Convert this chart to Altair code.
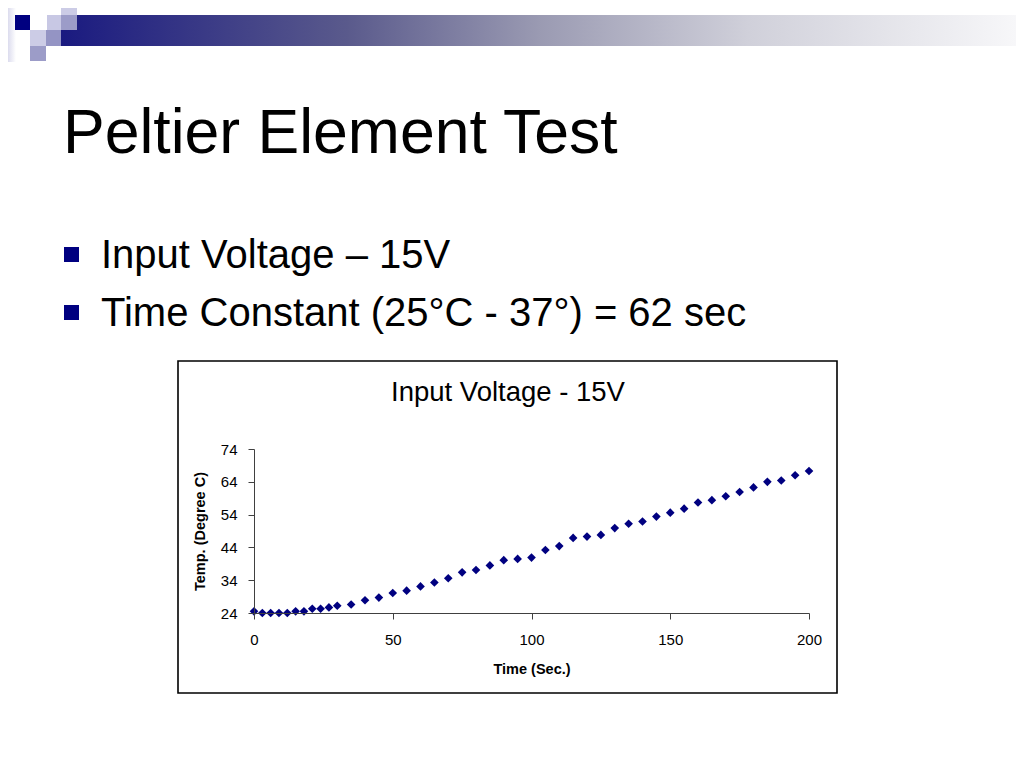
import altair as alt
import pandas as pd

# ---- data ----
time_sec = [0, 3, 6, 9, 12, 15, 18, 21, 24, 27, 30,
            35, 40, 45, 50, 55, 60, 65, 70, 75, 80, 85, 90, 95, 100,
            105, 110, 115, 120, 125, 130, 135, 140, 145, 150,
            155, 160, 165, 170, 175, 180, 185, 190, 195, 200]
temp_c = [24.5, 24.0, 24.0, 24.0, 24.0, 24.5, 24.5, 25.3, 25.3, 25.7, 26.2,
          26.6, 27.9, 28.7, 30.1, 30.8, 32.1, 33.3, 34.6, 36.4, 37.1, 38.5, 40.1, 40.5, 40.9,
          43.2, 44.4, 46.9, 47.3, 47.8, 49.9, 51.2, 51.9, 53.4, 54.6,
          55.8, 57.7, 58.4, 59.6, 60.9, 62.3, 64.0, 64.4, 66.0, 67.3]
x_ticks = [0, 50, 100, 150, 200]
y_ticks = [24, 34, 44, 54, 64, 74]

slide_title = "Peltier Element Test"
bullets = ["Input Voltage \u2013 15V", "Time Constant (25\u00b0C - 37\u00b0) = 62 sec"]
chart_title = "Input Voltage - 15V"

df = pd.DataFrame({"time": time_sec, "temp": temp_c})

FONT = "Liberation Sans"
NAVY = "#000080"
# plot origin on the page: (254, 449)
OX, OY = 254, 449
W, H = 555, 164


def px(v):
    return v - OX


def py(v):
    return v - OY


one = alt.Data(values=[{}])


def box(x1, y1, x2, y2, **mark):
    return alt.Chart(one).mark_rect(**mark).encode(
        x=alt.value(px(x1)), x2=alt.value(px(x2)),
        y=alt.value(py(y1)), y2=alt.value(py(y2)))


def label(txt, x, y, **mark):
    return alt.Chart(one).mark_text(text=txt, font=FONT, color="black", **mark).encode(
        x=alt.value(px(x)), y=alt.value(py(y)))


grad = alt.LinearGradient(
    gradient="linear", x1=0, x2=1, y1=0, y2=0,
    stops=[alt.GradientStop(color="#1a1a80", offset=0),
           alt.GradientStop(color="#5a5a8c", offset=0.3),
           alt.GradientStop(color="#9a9ab2", offset=0.5),
           alt.GradientStop(color="#d0d0da", offset=0.72),
           alt.GradientStop(color="#f7f7f9", offset=1)])

side_grad = alt.LinearGradient(
    gradient="linear", x1=0, x2=1, y1=0, y2=0,
    stops=[alt.GradientStop(color="#dcdcee", offset=0),
           alt.GradientStop(color="#ffffff", offset=1)])

layers = [
    box(8, 8, 16, 62, color=side_grad),
    box(61, 15, 1016, 46, color=grad),
    box(15, 15, 30, 30, color=NAVY),
    box(47, 15, 61, 30, color="#c8c8e4"),
    box(61, 8, 77, 15, color="#ccccE6"),
    box(61, 15, 77, 30, color="#9c9cc8"),
    box(30, 30, 46, 46, color="#ccccE6"),
    box(46, 30, 61, 46, color="#9494c4"),
    box(30, 46, 46, 61, color="#9c9cc8"),
    label(slide_title, 63, 153, fontSize=62.5, align="left", baseline="alphabetic"),
    box(64, 247, 79, 262, color=NAVY),
    box(64, 305, 79, 320, color=NAVY),
    label(bullets[0], 101, 268, fontSize=40, align="left", baseline="alphabetic"),
    label(bullets[1], 101, 326, fontSize=40, align="left", baseline="alphabetic"),
    box(178, 361, 837, 693, fill="white", fillOpacity=0, stroke="black", strokeWidth=1.6),
    label(chart_title, 508, 401, fontSize=27.5, align="center", baseline="alphabetic"),
]

points = alt.Chart(df).mark_point(shape="diamond", filled=True, color=NAVY, size=75, opacity=1).encode(
    x=alt.X("time:Q", title="Time (Sec.)",
            scale=alt.Scale(domain=[0, 200], nice=False, zero=False),
            axis=alt.Axis(values=x_ticks, grid=False, labelFontSize=15, labelFont=FONT,
                          labelColor="black", tickSize=6, labelPadding=13, labelFlush=False,
                          titleFont=FONT, titleFontSize=14.5, titleFontWeight="bold",
                          titleColor="black", titlePadding=15, zindex=2,
                          domainColor="#404040", tickColor="#404040")),
    y=alt.Y("temp:Q", title="Temp. (Degree C)",
            scale=alt.Scale(domain=[24, 74], nice=False, zero=False),
            axis=alt.Axis(values=y_ticks, grid=False, labelFontSize=15, labelFont=FONT,
                          labelColor="black", tickSize=6, labelPadding=11, labelFlush=False,
                          titleFont=FONT, titleFontSize=14.5, titleFontWeight="bold",
                          titleColor="black", titlePadding=13, zindex=2,
                          domainColor="#404040", tickColor="#404040")),
)

chart = alt.layer(*layers, points).properties(
    width=W, height=H,
    autosize=alt.AutoSizeParams(type="none"),
    padding={"left": OX - 8, "top": OY - 8, "right": 1016 - OX - W, "bottom": 760 - OY - H},
    background="white",
).configure_view(stroke=None)

chart.save("out.html", embed_options={"renderer": "svg", "actions": False})
